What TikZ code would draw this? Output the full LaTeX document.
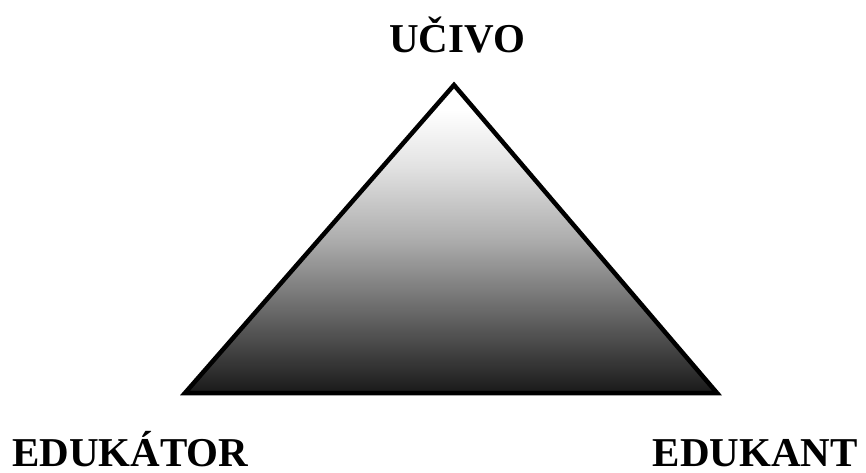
\documentclass[tikz,border=0pt]{standalone}
\usepackage{fontspec}
\setmainfont{Liberation Serif}
\pgfdeclareverticalshading{trigrad}{100bp}{color(0bp)=(black!92); color(25bp)=(black!90); color(37bp)=(black!62); color(50bp)=(black!32); color(62bp)=(black!11); color(71bp)=(white); color(100bp)=(white)}
\begin{document}
\begin{tikzpicture}[x=1pt,y=1pt,
  lbl/.style={font=\fontsize{41}{45}\selectfont\bfseries, inner sep=0pt, text depth=0pt, anchor=base}]
\useasboundingbox (0,0) rectangle (866,472);
\coordinate (top) at (454,387);
\coordinate (bl) at (185,79);
\coordinate (br) at (717,79);
\shade[shading=trigrad] (top) -- (bl) -- (br) -- cycle;
\draw[line width=4.5pt, line join=miter] (top) -- (bl) -- (br) -- cycle;
\node[lbl] (ucivo) at (457,419) {UČIVO};
\node[lbl, anchor=base west] (edukator) at (12,6) {EDUKÁTOR};
\node[lbl, anchor=base east] (edukant) at (858,6) {EDUKANT};
\end{tikzpicture}
\end{document}
